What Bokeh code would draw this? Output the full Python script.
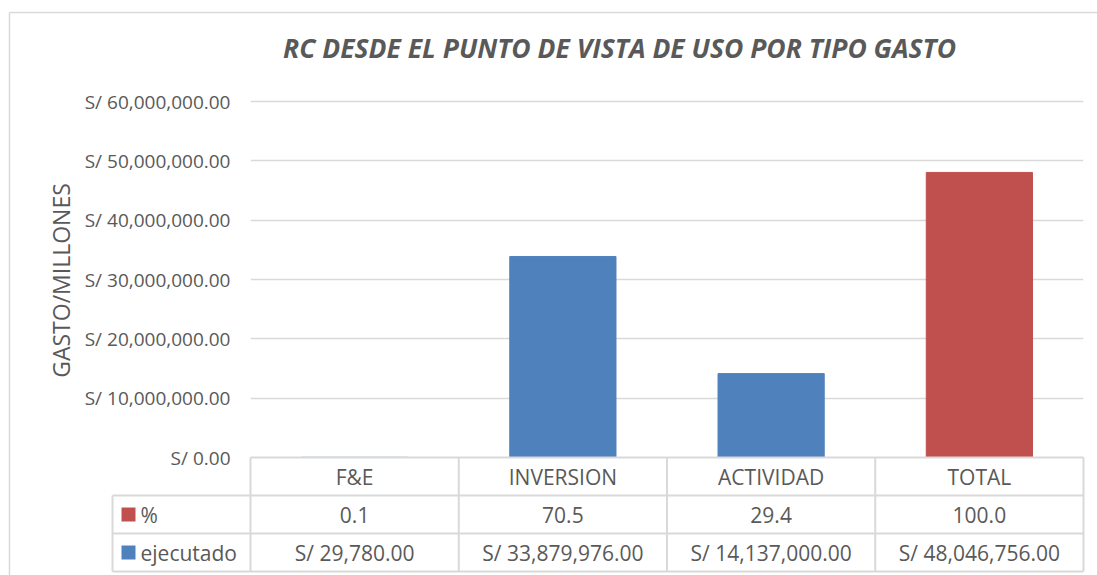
from bokeh.plotting import figure
from bokeh.models import FactorRange, Range1d, FixedTicker, CustomJSTickFormatter
from bokeh.embed import file_html
from bokeh.resources import INLINE
from bokeh.core.properties import value
import math

# ---------------- data ----------------
categories = ["F&E", "INVERSION", "ACTIVIDAD", "TOTAL"]
ejecutado = [29780.00, 33879976.00, 14137000.00, 48046756.00]
porcentaje = [0.1, 70.5, 29.4, 100.0]
series_names = ["%", "ejecutado"]
y_ticks = [0, 10000000, 20000000, 30000000, 40000000, 50000000, 60000000]
title_text = "RC DESDE EL PUNTO DE VISTA DE USO POR TIPO GASTO"
y_label = "GASTO/MILLONES"

# ---------------- style ----------------
BLUE = "#4F81BD"
RED = "#C0504D"
TEXT = "#595959"
GRID = "#D9D9D9"
FONT = "Open Sans"

W, H = 1097, 575
frame_left, frame_right = 250, 1083
frame_top, frame_bottom = 92, 571
top_tick_px = 101
zero_px = 457
row_px = 38
y_per_px = y_ticks[-1] / (zero_px - top_tick_px)
cat_px = (frame_right - frame_left) / len(categories)


def px_x(px):
    return (px - frame_left) / cat_px


def px_y(py):
    return (zero_px - py) * y_per_px


p = figure(width=W, height=H, x_range=FactorRange(*categories, range_padding=0),
           y_range=Range1d(px_y(frame_bottom), px_y(frame_top)), output_backend="svg",
           toolbar_location=None,
           min_border_left=frame_left, min_border_right=W - frame_right,
           min_border_top=frame_top, min_border_bottom=H - frame_bottom)
p.title.visible = False
p.outline_line_color = None
p.background_fill_color = "white"
p.border_fill_color = "white"
p.extra_y_ranges = {"table": Range1d(0, (frame_bottom - frame_top) / row_px)}

p.xaxis.visible = False
p.xgrid.visible = False
p.ygrid.ticker = FixedTicker(ticks=y_ticks[1:])
p.ygrid.grid_line_color = GRID
p.ygrid.grid_line_width = 1.5

ax = p.yaxis[0]
ax.ticker = FixedTicker(ticks=y_ticks)
ax.formatter = CustomJSTickFormatter(code="""
return "S/ " + tick.toLocaleString("en-US", {minimumFractionDigits: 2, maximumFractionDigits: 2});
""")
ax.axis_line_color = None
ax.major_tick_line_color = None
ax.minor_tick_line_color = None
ax.major_label_standoff = 14
ax.major_label_text_font = FONT
ax.major_label_text_font_size = "19px"
ax.major_label_text_color = TEXT

# ---------------- chart border (left + top) ----------------
bx, by = px_x(9), px_y(12)
p.segment(x0=[bx, bx], y0=[by, by], x1=[bx, px_x(W + 50)], y1=[px_y(H + 50), by],
          line_color=GRID, line_width=1.5, level="overlay")

# ---------------- bars (stacked) ----------------
bar_colors = [RED if c == "TOTAL" else BLUE for c in categories]
p.vbar(x=categories, bottom=0, top=ejecutado, width=0.51, fill_color=bar_colors,
       line_color=bar_colors)
p.vbar(x=categories, bottom=ejecutado, top=[e + q for e, q in zip(ejecutado, porcentaje)],
       width=0.51, fill_color=RED, line_color=None)

# ---------------- data table ----------------
n = len(categories)
legend_left = px_x(112)
hx0 = [legend_left, legend_left, legend_left, 0]
hx1 = [n, n, n, n]
hy = [0, 1, 2, 3]
p.segment(x0=hx0, y0=hy, x1=hx1, y1=hy, y_range_name="table", line_color=GRID,
          line_width=2, level="overlay")
vx = list(range(n + 1)) + [legend_left]
vy1 = [3] * (n + 1) + [2]
p.segment(x0=vx, y0=[0] * len(vx), x1=vx, y1=vy1, y_range_name="table", line_color=GRID,
          line_width=2, level="overlay")

tstyle = dict(y_range_name="table", text_baseline="middle", text_font=value(FONT),
              text_font_size="21px", text_color=TEXT, level="overlay")
p.text(x=categories, y=[2.5] * n, text=categories, text_align="center", **tstyle)
p.text(x=categories, y=[1.5] * n, text=["{:.1f}".format(v) for v in porcentaje],
       text_align="center", **tstyle)
p.text(x=categories, y=[0.5] * n, text=["S/ {:,.2f}".format(v) for v in ejecutado],
       text_align="center", **tstyle)

# legend keys (drawn as thick butt-capped segments = squares)
p.segment(x0=[px_x(121)] * 2, x1=[px_x(135)] * 2, y0=[1.5, 0.5], y1=[1.5, 0.5],
          line_width=14, line_cap="butt", line_color=[RED, BLUE], y_range_name="table",
          level="overlay")
p.text(x=[px_x(140)] * 2, y=[1.5, 0.5], text=series_names, text_align="left", **tstyle)

# ---------------- title, axis label ----------------
p.text(x=[px_x(619)], y=[px_y(47)], text=[title_text], text_align="center",
       text_baseline="middle", text_font=value(FONT), text_font_size="26.5px",
       text_font_style="bold italic", text_color=TEXT, level="overlay")
p.text(x=[px_x(60)], y=[px_y(280)], text=[y_label], angle=math.pi / 2,
       text_align="center", text_baseline="middle", text_font=value(FONT),
       text_font_size="23px", text_color=TEXT, level="overlay")

open("out.html", "w").write(file_html(p, INLINE))
